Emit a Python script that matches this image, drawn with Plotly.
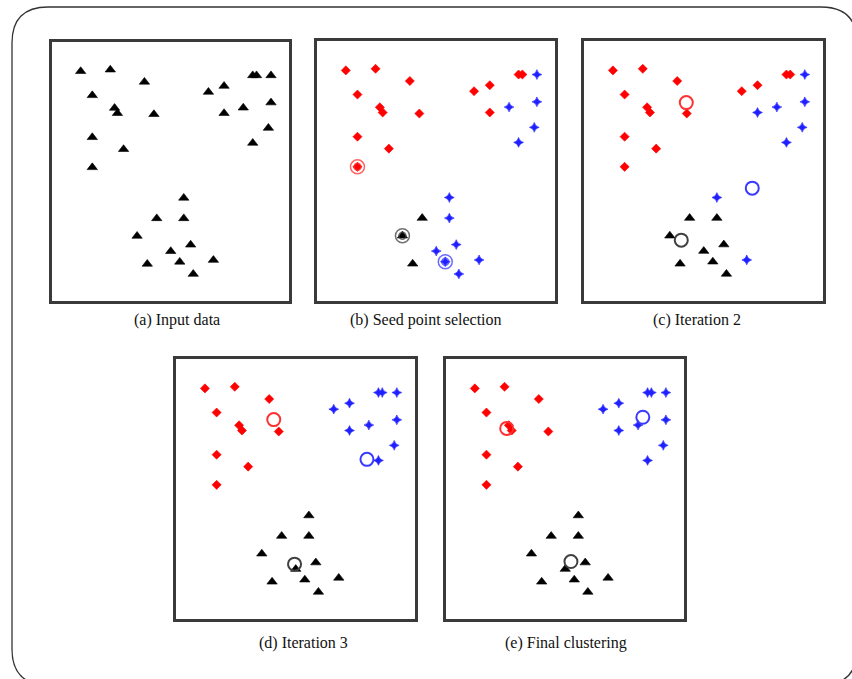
import plotly.graph_objects as go

# Point coordinates (0-100 in both directions, y pointing up)
px = [12.1, 24.6, 39.0, 17.0, 26.4, 27.6, 43.0, 17.0, 30.2, 17.0,
      66.0, 72.6, 84.7, 86.3, 92.4, 92.4, 80.7, 72.6, 91.3, 84.7,
      55.6, 44.2, 55.6, 35.9, 58.5, 50.1, 53.9, 40.2, 68.1, 59.6]
py = [88.7, 89.3, 84.6, 79.4, 74.5, 72.5, 72.1, 63.2, 58.6, 51.6,
      80.7, 83.0, 87.1, 87.1, 87.1, 76.6, 74.6, 72.5, 66.8, 61.0,
      39.8, 31.9, 31.9, 25.1, 21.7, 19.2, 15.1, 14.3, 15.8, 10.4]

# Cluster labels per point for each panel: k = black, r = red, b = blue
labels_a = ["k"] * 30
labels_b = ["r"] * 14 + ["b", "b", "b", "r", "b", "b",
                         "b", "k", "b", "k", "b", "b", "b", "k", "b", "b"]
labels_c = ["r"] * 14 + ["b"] * 6 + ["b", "k", "k", "k", "k", "k", "k", "k", "b", "k"]
labels_d = ["r"] * 10 + ["b"] * 10 + ["k"] * 10
labels_e = ["r"] * 10 + ["b"] * 10 + ["k"] * 10

# Seed points chosen in panel (b): point indices (red, blue, black)
seeds_b = {"r": 9, "b": 26, "k": 23}

# Cluster centres (x, y) per panel
centres_c = {"r": (42.8, 76.3), "b": (70.4, 43.4), "k": (40.7, 23.4)}
centres_d = {"r": (40.9, 76.7), "b": (79.9, 61.4), "k": (49.6, 21.1)}
centres_e = {"r": (25.5, 73.3), "b": (82.7, 77.6), "k": (52.5, 22.1)}

captions = ["(a) Input data", "(b) Seed point selection", "(c) Iteration 2",
            "(d) Iteration 3", "(e) Final clustering"]

W, H = 852, 679

# Panel boxes in pixels: (left, right, top, bottom)
boxes = [(52, 289, 42, 301), (317, 555, 41, 301), (584, 823, 41, 301),
         (176, 415, 359, 619), (446, 684, 359, 619)]
caption_pos = [(177, 320), (426, 320), (697, 320), (303, 643), (566, 643)]

marker_style = {
    "k": dict(symbol="triangle-up", size=9, color="black"),
    "r": dict(symbol="diamond", size=7, color="#ff0000"),
    "b": dict(symbol="star-diamond", size=7, color="#2020ff"),
}
ring_color = {"r": "#ff3030", "b": "#3a3aff", "k": "#404040"}

panels = [
    (labels_a, None, None),
    (labels_b, seeds_b, None),
    (labels_c, None, centres_c),
    (labels_d, None, centres_d),
    (labels_e, None, centres_e),
]

fig = go.Figure()

for i, (labels, seeds, centres) in enumerate(panels):
    n = i + 1
    xa = "x" if n == 1 else f"x{n}"
    ya = "y" if n == 1 else f"y{n}"
    for c in ["k", "r", "b"]:
        idx = [j for j, l in enumerate(labels) if l == c]
        if not idx:
            continue
        fig.add_trace(go.Scatter(
            x=[px[j] for j in idx], y=[py[j] for j in idx],
            mode="markers",
            marker=dict(**marker_style[c], line=dict(width=0.6, color=marker_style[c]["color"])),
            xaxis=xa, yaxis=ya, showlegend=False, hoverinfo="skip"))
    if seeds:
        for c, j in seeds.items():
            for s in (14, 7):
                fig.add_trace(go.Scatter(
                    x=[px[j]], y=[py[j]], mode="markers",
                    marker=dict(symbol="circle-open", size=s,
                                color=ring_color[c], opacity=0.75,
                                line=dict(width=1.5, color=ring_color[c])),
                    xaxis=xa, yaxis=ya, showlegend=False, hoverinfo="skip"))
    if centres:
        for c, (cx, cy) in centres.items():
            fig.add_trace(go.Scatter(
                x=[cx], y=[cy], mode="markers",
                marker=dict(symbol="circle-open", size=13,
                            color=ring_color[c],
                            line=dict(width=2, color=ring_color[c])),
                xaxis=xa, yaxis=ya, showlegend=False, hoverinfo="skip"))

layout = dict(
    width=W, height=H,
    margin=dict(l=0, r=0, t=0, b=0),
    paper_bgcolor="white", plot_bgcolor="white",
    showlegend=False,
)

for i, (l, r, t, b) in enumerate(boxes):
    n = i + 1
    xk = "xaxis" if n == 1 else f"xaxis{n}"
    yk = "yaxis" if n == 1 else f"yaxis{n}"
    common = dict(range=[0, 100], showgrid=False, zeroline=False,
                  showticklabels=False, ticks="", showline=True, mirror=True,
                  linewidth=2.5, linecolor="#3a3a3a", fixedrange=True)
    layout[xk] = dict(domain=[l / W, r / W], anchor="y" if n == 1 else f"y{n}", **common)
    layout[yk] = dict(domain=[1 - b / H, 1 - t / H], anchor="x" if n == 1 else f"x{n}", **common)

fig.update_layout(**layout)

for text, (cx, cy) in zip(captions, caption_pos):
    fig.add_annotation(x=cx / W, y=1 - cy / H, xref="paper", yref="paper",
                       text=text, showarrow=False, xanchor="center", yanchor="middle",
                       font=dict(family="Liberation Serif", size=16, color="#111111"))

# Rounded outer frame
x0, y0, x1, y1, rad = 12, 7, 857, 685, 36
def P(x, y):
    return f"{x / W:.5f},{1 - y / H:.5f}"
path = (f"M {P(x0 + rad, y0)} L {P(x1 - rad, y0)} "
        f"Q {P(x1, y0)} {P(x1, y0 + rad)} L {P(x1, y1 - rad)} "
        f"Q {P(x1, y1)} {P(x1 - rad, y1)} L {P(x0 + rad, y1)} "
        f"Q {P(x0, y1)} {P(x0, y1 - rad)} L {P(x0, y0 + rad)} "
        f"Q {P(x0, y0)} {P(x0 + rad, y0)} Z")
fig.add_shape(type="path", path=path, xref="paper", yref="paper",
              line=dict(color="#333333", width=1.3), fillcolor="rgba(0,0,0,0)")

fig.write_html("out.html")
